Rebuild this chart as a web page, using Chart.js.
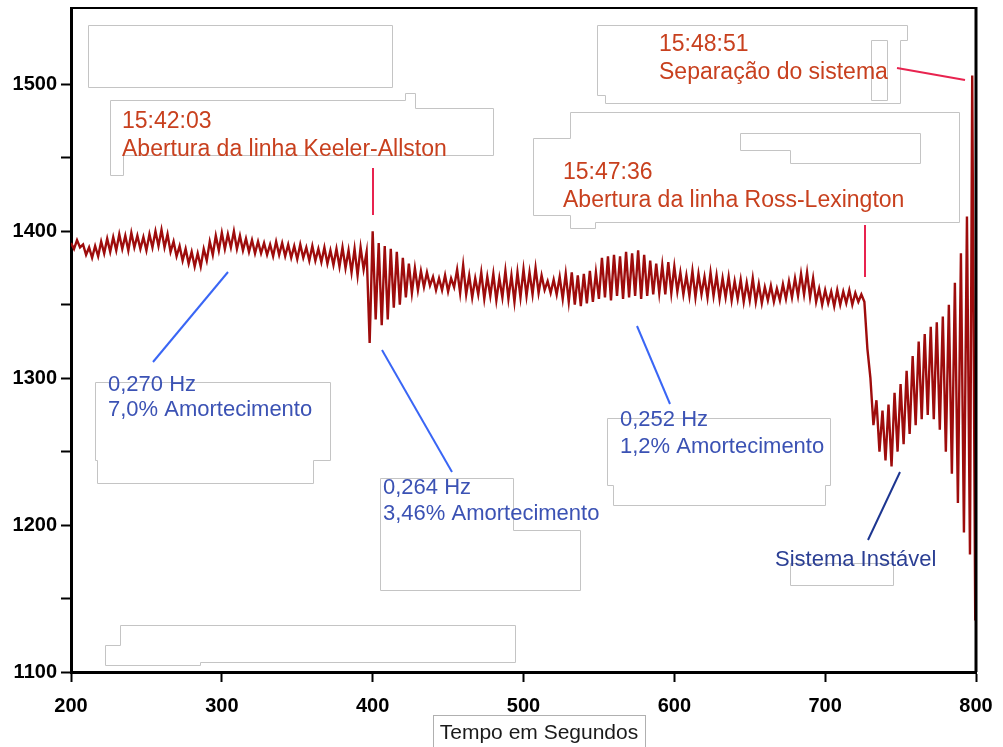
<!DOCTYPE html>
<html>
<head>
<meta charset="utf-8">
<script src="https://cdn.jsdelivr.net/npm/chart.js@4.4.0/dist/chart.umd.min.js"></script>
<style>
    html, body { margin: 0; padding: 0; background: #fff; }
    #chart { display: block; }
</style>
</head>
<body>
<canvas id="chart" width="1003" height="747"></canvas>
<script>
// Data: frequency signal, one sample every 2 s from t = 200 s
const startTime = 200;
const timeStep = 2;
const signal = [
    1392, 1388, 1394, 1389, 1391, 1384, 1389, 1382, 1390, 1383,   // 200
    1393, 1385, 1395, 1386, 1396, 1387, 1398, 1388, 1397, 1387,   // 220
    1399, 1389, 1397, 1388, 1396, 1387, 1398, 1389, 1400, 1390,   // 240
    1401, 1389, 1398, 1386, 1393, 1383, 1390, 1380, 1388, 1378,   // 260
    1386, 1376, 1385, 1376, 1388, 1380, 1393, 1384, 1397, 1387,   // 280
    1399, 1388, 1398, 1389, 1400, 1388, 1397, 1387, 1395, 1386,   // 300
    1394, 1385, 1393, 1385, 1392, 1384, 1391, 1383, 1393, 1384,   // 320
    1392, 1383, 1391, 1382, 1390, 1381, 1391, 1382, 1389, 1380,   // 340
    1390, 1380, 1388, 1379, 1389, 1378, 1387, 1377, 1388, 1376,   // 360
    1389, 1375, 1387, 1372, 1388, 1370, 1389, 1374, 1386, 1324,   // 380
    1400, 1340, 1392, 1336, 1390, 1340, 1388, 1348, 1386, 1350,   // 400
    1382, 1355, 1378, 1358, 1375, 1360, 1373, 1362, 1372, 1363,   // 420
    1369, 1360, 1368, 1360, 1370, 1359, 1368, 1362, 1374, 1358,   // 440
    1377, 1357, 1370, 1355, 1368, 1357, 1372, 1354, 1369, 1356,   // 460
    1371, 1353, 1368, 1355, 1373, 1354, 1370, 1352, 1372, 1355,   // 480
    1374, 1356, 1372, 1357, 1375, 1358, 1370, 1360, 1366, 1358,   // 500
    1367, 1357, 1369, 1354, 1371, 1352, 1372, 1350, 1370, 1349,   // 520
    1371, 1351, 1373, 1352, 1372, 1354, 1382, 1355, 1383, 1353,   // 540
    1384, 1356, 1383, 1354, 1386, 1355, 1385, 1356, 1387, 1354,   // 560
    1384, 1356, 1380, 1357, 1378, 1358, 1377, 1357, 1379, 1358,   // 580
    1376, 1359, 1372, 1357, 1370, 1356, 1373, 1355, 1371, 1357,   // 600
    1369, 1355, 1372, 1356, 1370, 1354, 1368, 1355, 1369, 1353,   // 620
    1366, 1354, 1367, 1352, 1365, 1353, 1368, 1352, 1364, 1351,   // 640
    1362, 1353, 1363, 1352, 1361, 1353, 1364, 1354, 1366, 1355,   // 660
    1368, 1356, 1371, 1357, 1372, 1355, 1368, 1352, 1361, 1350,   // 680
    1360, 1351, 1359, 1349, 1360, 1350, 1359, 1351, 1360, 1350,   // 700
    1358, 1352, 1357, 1352, 1320, 1300, 1268, 1285, 1250, 1278,   // 720
    1244, 1282, 1240, 1290, 1250, 1296, 1255, 1305, 1262, 1315,   // 740
    1268, 1325, 1272, 1330, 1275, 1335, 1272, 1338, 1265, 1342,   // 760
    1250, 1350, 1235, 1365, 1215, 1385, 1195, 1410, 1180          // 780
];
// last two swings before separation
const tailTimes = [797.5, 799.5];
const tailValues = [1506, 1135];

const xTickValues = [200, 300, 400, 500, 600, 700, 800];
const yTickValues = [1100, 1150, 1200, 1250, 1300, 1350, 1400, 1450, 1500];
const yLabelValues = [1100, 1200, 1300, 1400, 1500];

// Annotations (canvas pixels)
const redNotes = [
    { text: '15:42:03', x: 122, y: 122 },
    { text: 'Abertura da linha Keeler-Allston', x: 122, y: 150 },
    { text: '15:48:51', x: 659, y: 45 },
    { text: 'Separação do sistema', x: 659, y: 73 },
    { text: '15:47:36', x: 563, y: 173 },
    { text: 'Abertura da linha Ross-Lexington', x: 563, y: 201 }
];
const blueNotes = [
    { text: '0,270 Hz', x: 108, y: 385 },
    { text: '7,0% Amortecimento', x: 108, y: 410 },
    { text: '0,264 Hz', x: 383, y: 488 },
    { text: '3,46% Amortecimento', x: 383, y: 514 },
    { text: '0,252 Hz', x: 620, y: 420 },
    { text: '1,2% Amortecimento', x: 620, y: 447 }
];
const leaderLines = [
    { from: [373, 168], to: [373, 215], color: '#e8234f' },
    { from: [865, 225], to: [865, 277], color: '#e8234f' },
    { from: [897, 68], to: [965, 80], color: '#e8234f' },
    { from: [153, 362], to: [228, 272], color: '#3a66f5' },
    { from: [382, 350], to: [452, 472], color: '#3a66f5' },
    { from: [637, 326], to: [670, 404], color: '#3a66f5' },
    { from: [900, 472], to: [868, 540], color: '#1d3691' }
];
// faint outlines left over from the original slide
const ghostBoxes = [
    [[88, 25], [392, 25], [392, 87], [88, 87]],
    [[110, 100], [405, 100], [405, 93], [415, 93], [415, 108], [493, 108], [493, 155], [123, 155], [123, 175], [110, 175]],
    [[597, 25], [907, 25], [907, 40], [900, 40], [900, 103], [605, 103], [605, 95], [597, 95]],
    [[871, 40], [887, 40], [887, 100], [871, 100]],
    [[570, 112], [959, 112], [959, 222], [595, 222], [595, 228], [570, 228], [570, 215], [533, 215], [533, 138], [570, 138]],
    [[740, 133], [920, 133], [920, 163], [790, 163], [790, 150], [740, 150]],
    [[95, 382], [330, 382], [330, 460], [313, 460], [313, 483], [97, 483], [97, 460], [95, 460]],
    [[380, 478], [513, 478], [513, 530], [580, 530], [580, 590], [380, 590]],
    [[607, 418], [830, 418], [830, 485], [825, 485], [825, 505], [613, 505], [613, 485], [607, 485]],
    [[790, 563], [893, 563], [893, 585], [790, 585]],
    [[120, 625], [515, 625], [515, 662], [200, 662], [200, 665], [105, 665], [105, 645], [120, 645]]
];

const FONT = '"Liberation Sans", Arial, Helvetica, sans-serif';

function buildPoints() {
    const pts = signal.map((v, i) => ({ x: startTime + i * timeStep, y: v }));
    tailTimes.forEach((t, i) => pts.push({ x: t, y: tailValues[i] }));
    return pts;
}

function polyline(ctx, pts, close) {
    ctx.beginPath();
    ctx.moveTo(pts[0][0], pts[0][1]);
    for (let i = 1; i < pts.length; i++) ctx.lineTo(pts[i][0], pts[i][1]);
    if (close) ctx.closePath();
    ctx.stroke();
}

// Ghost outlines behind the trace
const ghostPlugin = {
    id: 'ghostBoxes',
    beforeDatasetsDraw(chart) {
        const ctx = chart.ctx;
        ctx.save();
        ctx.strokeStyle = '#c4c4c4';
        ctx.lineWidth = 1;
        ghostBoxes.forEach(b => polyline(ctx, b.map(p => [p[0] + 0.5, p[1] + 0.5]), true));
        ctx.restore();
    }
};

// Frame, leader lines, notes and axis title
const notesPlugin = {
    id: 'notes',
    afterDraw(chart) {
        const ctx = chart.ctx;
        const a = chart.chartArea;
        ctx.save();

        ctx.strokeStyle = '#000';
        ctx.lineWidth = 2;
        polyline(ctx, [[a.left, a.top], [a.right, a.top]]);
        ctx.lineWidth = 3;
        polyline(ctx, [[a.right, a.top - 1], [a.right, a.bottom]]);

        ctx.lineWidth = 2;
        leaderLines.forEach(l => {
            ctx.strokeStyle = l.color;
            polyline(ctx, [l.from, l.to]);
        });

        ctx.textAlign = 'left';
        ctx.textBaseline = 'middle';
        ctx.font = '23px ' + FONT;
        ctx.fillStyle = '#c8401e';
        redNotes.forEach(n => ctx.fillText(n.text, n.x, n.y));
        ctx.font = '22px ' + FONT;
        ctx.fillStyle = '#3b52b4';
        blueNotes.forEach(n => ctx.fillText(n.text, n.x, n.y));
        ctx.fillStyle = '#2b3f94';
        ctx.fillText('Sistema Instável', 775, 560);

        // axis title in its box
        ctx.strokeStyle = '#b0b0b0';
        ctx.lineWidth = 1;
        ctx.strokeRect(433.5, 715.5, 212, 40);
        ctx.textAlign = 'center';
        ctx.font = '21px ' + FONT;
        ctx.fillStyle = '#1a1a1a';
        ctx.fillText('Tempo em Segundos', 539, 733);
        ctx.restore();
    }
};

const tickFont = { family: FONT, size: 20, weight: 'bold' };

new Chart(document.getElementById('chart'), {
    type: 'line',
    data: {
        datasets: [{
            data: buildPoints(),
            borderColor: '#9e0c0c',
            borderWidth: 2.4,
            pointRadius: 0,
            tension: 0,
            fill: false
        }]
    },
    options: {
        responsive: false,
        animation: false,
        devicePixelRatio: 1,
        layout: { padding: { left: 0, top: 8, right: 27, bottom: 0 } },
        plugins: {
            legend: { display: false },
            tooltip: { enabled: false }
        },
        scales: {
            x: {
                type: 'linear',
                min: 200,
                max: 800,
                afterBuildTicks: s => { s.ticks = xTickValues.map(v => ({ value: v })); },
                afterFit: s => { s.height = 75; s.paddingLeft = 0; s.paddingRight = 0; },
                ticks: { font: tickFont, color: '#000', padding: 12, maxRotation: 0, autoSkip: false },
                grid: { drawOnChartArea: false, drawTicks: true, tickLength: 10, tickWidth: 2, tickColor: '#000' },
                border: { display: true, color: '#000', width: 3 }
            },
            y: {
                min: 1100,
                max: 1552,
                afterBuildTicks: s => { s.ticks = yTickValues.map(v => ({ value: v })); },
                afterFit: s => { s.width = 71; s.paddingTop = 0; s.paddingBottom = 0; },
                ticks: {
                    font: tickFont,
                    color: '#000',
                    padding: 4,
                    autoSkip: false,
                    callback: v => yLabelValues.includes(v) ? String(v) : ''
                },
                grid: { drawOnChartArea: false, drawTicks: true, tickLength: 10, tickWidth: 2, tickColor: '#000' },
                border: { display: true, color: '#000', width: 3 }
            }
        }
    },
    plugins: [ghostPlugin, notesPlugin]
});
</script>
</body>
</html>
